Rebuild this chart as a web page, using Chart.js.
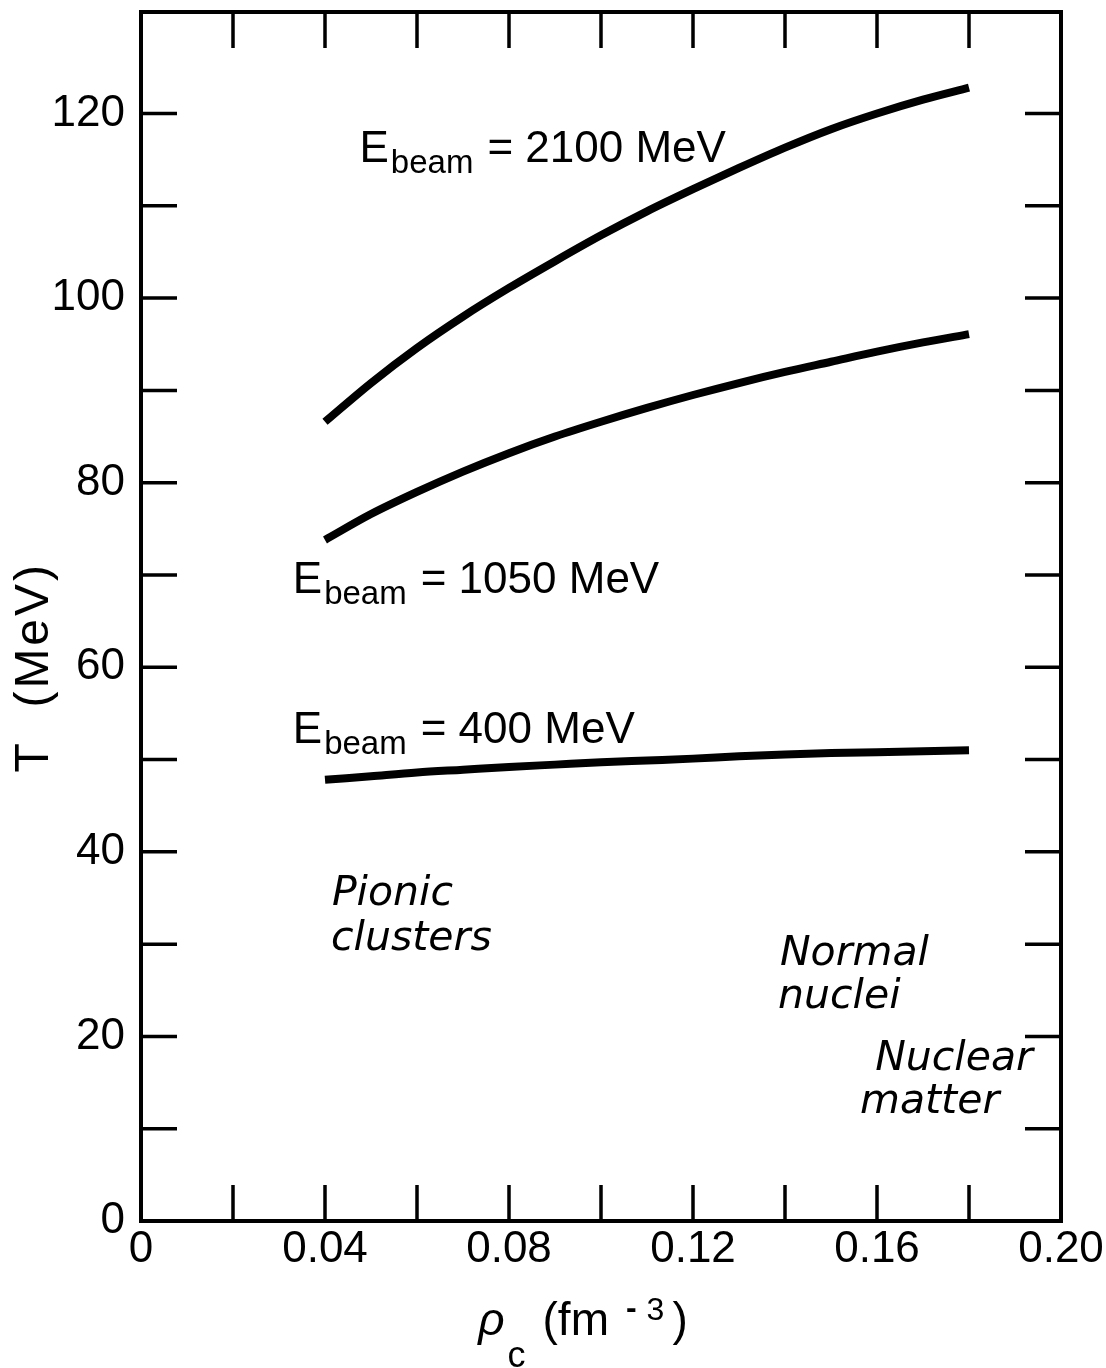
<!DOCTYPE html>
<html>
<head>
<meta charset="utf-8">
<title>T vs rho_c</title>
<script src="https://cdn.jsdelivr.net/npm/chart.js@4.4.1/dist/chart.umd.min.js"></script>
<style>
  body { margin: 0; background: #fff; }
  canvas { display: block; }
</style>
</head>
<body>
<canvas id="tempChart" width="1106" height="1368"></canvas>
<script>
'use strict';

// central density rho_c (fm^-3)
const rho = [0.04, 0.05, 0.06, 0.07, 0.08, 0.09, 0.10, 0.11, 0.12, 0.13, 0.14, 0.15, 0.16, 0.17, 0.18];
// temperature T (MeV) for each beam energy
const t2100 = [86.6, 90.8, 94.6, 98.0, 101.1, 104.0, 106.8, 109.4, 111.8, 114.1, 116.3, 118.3, 120.0, 121.5, 122.8];
const t1050 = [73.8, 76.6, 79.0, 81.2, 83.2, 85.0, 86.6, 88.1, 89.5, 90.8, 92.0, 93.1, 94.2, 95.2, 96.1];
const t400 = [47.8, 48.2, 48.6, 48.9, 49.2, 49.45, 49.7, 49.9, 50.1, 50.35, 50.55, 50.7, 50.8, 50.9, 51.0];
const beams = ['2100', '1050', '400'];

// tick labels and minor tick marks
const xLabelTicks = [0, 0.04, 0.08, 0.12, 0.16, 0.20];
const yLabelTicks = [0, 20, 40, 60, 80, 100, 120];
const xMarks = [0.02, 0.04, 0.06, 0.08, 0.10, 0.12, 0.14, 0.16, 0.18];
const yMarks = [10, 20, 30, 40, 50, 60, 70, 80, 90, 100, 110, 120];

const regionNames = [['Pionic', 'clusters'], ['Normal', 'nuclei'], ['Nuclear', 'matter']];

const FONT = '"Liberation Sans", Arial, sans-serif';
const ITALIC_FONT = 'italic 41px "DejaVu Sans", sans-serif';

let ctx = document.getElementById('tempChart').getContext('2d');

function toPoints (ys) {
  return rho.map((r, i) => ({ x: r, y: ys[i] }));
}

function makeDataset (ys) {
  return {
    data: toPoints(ys),
    borderColor: '#000',
    borderWidth: 8,
    pointRadius: 0,
    fill: false,
    cubicInterpolationMode: 'monotone'
  };
}

// where the annotations sit, in data units
const beamLabelPos = [
  { x: 0.0475, y: 114.7 },
  { x: 0.0330, y: 68.0 },
  { x: 0.0330, y: 51.8 }
];
const regionPos = [
  [{ x: 0.0415, y: 34.2 }, { x: 0.0413, y: 29.4 }],
  [{ x: 0.1389, y: 27.7 }, { x: 0.1385, y: 23.1 }],
  [{ x: 0.1596, y: 16.4 }, { x: 0.1563, y: 11.7 }]
];

// draws a list of text runs one after another
function drawRuns (c, x, y, runs) {
  let cx = x;
  runs.forEach(r => {
    cx += r.gap || 0;
    c.font = r.font;
    c.fillText(r.t, cx, y + (r.dy || 0));
    cx += c.measureText(r.t).width;
  });
}

const framePlugin = {
  id: 'frameTicks',
  afterDatasetsDraw (chart) {
    const c = chart.ctx;
    const a = chart.chartArea;
    const xs = chart.scales.x;
    const ys = chart.scales.y;
    const len = 36;
    c.save();
    c.strokeStyle = '#000';
    c.lineWidth = 3.5;
    c.beginPath();
    xMarks.forEach(v => {
      const px = xs.getPixelForValue(v);
      c.moveTo(px, a.top); c.lineTo(px, a.top + len);
      c.moveTo(px, a.bottom); c.lineTo(px, a.bottom - len);
    });
    yMarks.forEach(v => {
      const py = ys.getPixelForValue(v);
      c.moveTo(a.left, py); c.lineTo(a.left + len, py);
      c.moveTo(a.right, py); c.lineTo(a.right - len, py);
    });
    c.stroke();
    c.lineWidth = 4;
    c.strokeRect(a.left, a.top, a.right - a.left, a.bottom - a.top);
    c.restore();
  }
};

const textPlugin = {
  id: 'annotations',
  afterDraw (chart) {
    const c = chart.ctx;
    const a = chart.chartArea;
    const xs = chart.scales.x;
    const ys = chart.scales.y;
    c.save();
    c.fillStyle = '#000';
    c.textBaseline = 'alphabetic';
    c.textAlign = 'left';

    beams.forEach((b, i) => {
      const p = beamLabelPos[i];
      drawRuns(c, xs.getPixelForValue(p.x), ys.getPixelForValue(p.y), [
        { t: 'E', font: '44px ' + FONT },
        { t: 'beam', font: '33px ' + FONT, dy: 11, gap: 2 },
        { t: '= ' + b + ' MeV', font: '44px ' + FONT, gap: 14 }
      ]);
    });

    c.font = ITALIC_FONT;
    regionNames.forEach((lines, i) => {
      lines.forEach((txt, j) => {
        const p = regionPos[i][j];
        c.fillText(txt, xs.getPixelForValue(p.x), ys.getPixelForValue(p.y));
      });
    });

    // x title: rho_c (fm^-3)
    drawRuns(c, xs.getPixelForValue(0.0733), a.bottom + 114, [
      { t: 'ρ', font: 'italic 46px ' + FONT },
      { t: 'c', font: '36px ' + FONT, dy: 32, gap: 3 },
      { t: '(fm', font: '46px ' + FONT, gap: 17 },
      { t: '-', font: 'bold 32px ' + FONT, dy: -17, gap: 17 },
      { t: '3', font: '32px ' + FONT, dy: -15, gap: 10 },
      { t: ')', font: '46px ' + FONT, gap: 8 }
    ]);

    // y title
    c.translate(a.left - 106, ys.getPixelForValue(60));
    c.rotate(-Math.PI / 2);
    c.textAlign = 'center';
    c.textBaseline = 'middle';
    c.font = '48px ' + FONT;
    c.letterSpacing = '3px';
    c.fillText('T  (MeV)', 0, 0);
    c.restore();
  }
};

let chart = new Chart(ctx, {
  type: 'line',
  data: {
    datasets: [makeDataset(t2100), makeDataset(t1050), makeDataset(t400)]
  },
  options: {
    responsive: false,
    animation: false,
    layout: { padding: { top: 12, right: 45, left: 0, bottom: 0 } },
    plugins: {
      legend: { display: false },
      tooltip: { enabled: false }
    },
    scales: {
      x: {
        type: 'linear',
        min: 0,
        max: 0.2,
        grid: { display: false, drawTicks: false },
        border: { display: false },
        afterBuildTicks: s => { s.ticks = xLabelTicks.map(v => ({ value: v })); },
        afterFit: s => { s.height = 147; s.paddingLeft = 0; s.paddingRight = 0; },
        ticks: {
          color: '#000',
          padding: 2,
          maxRotation: 0,
          autoSkip: false,
          font: { family: FONT, size: 44 },
          callback: v => (v === 0 ? '0' : v.toFixed(2))
        }
      },
      y: {
        type: 'linear',
        min: 0,
        max: 131,
        grid: { display: false, drawTicks: false },
        border: { display: false },
        afterBuildTicks: s => { s.ticks = yLabelTicks.map(v => ({ value: v })); },
        afterFit: s => { s.width = 141; s.paddingTop = 0; s.paddingBottom = 0; },
        ticks: {
          color: '#000',
          padding: 16,
          autoSkip: false,
          font: { family: FONT, size: 44 },
          callback: v => String(v)
        }
      }
    }
  },
  plugins: [framePlugin, textPlugin]
});
</script>
</body>
</html>
